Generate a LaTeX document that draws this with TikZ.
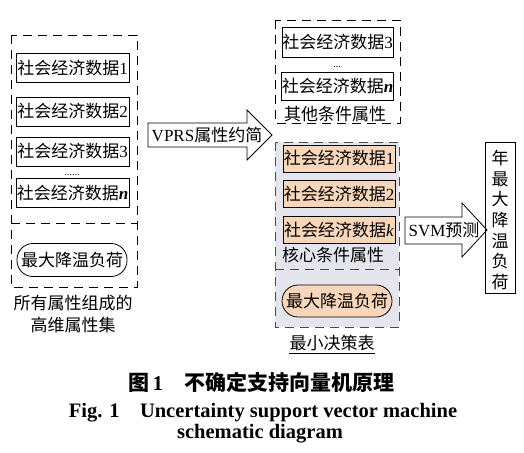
\documentclass[tikz,border=0pt]{standalone}
\usepackage{fontspec}
\setmainfont{Liberation Serif}
\newfontfamily\cjk{Noto Sans CJK SC}
\definecolor{peach}{HTML}{F8D6BA}
\definecolor{lav}{HTML}{E5E5EE}
\definecolor{dashgray}{HTML}{4A4A4A}
\begin{document}
\begin{tikzpicture}[x=1pt,y=-1pt,
  font=\fontsize{17}{19}\selectfont,
  dbox/.style={dash pattern=on 9pt off 6pt, line width=0.8pt},
  databox/.style={draw, line width=0.8pt, minimum width=113pt, minimum height=29pt, inner sep=0pt},
  corebox/.style={databox, fill=peach, minimum width=112pt, minimum height=27pt},
  stadium/.style={draw, line width=0.8pt, rounded corners=16pt, minimum width=110pt, minimum height=33pt, inner sep=0pt},
  lbl/.style={inner sep=0pt},
  blockarrow/.style={draw, line width=0.8pt, fill=white, line join=miter}]
\useasboundingbox (0,0) rectangle (524,452);
\fill[white] (0,0) rectangle (524,452);

% ---------- left column ----------
\draw[dbox] (11,35) rectangle (137,287);
\draw[dbox] (11,223) -- (137,223);
\node[databox] (l1) at (72.5,68) {{\cjk 社会经济数据}1};
\node[databox] (l2) at (72.5,111.5) {{\cjk 社会经济数据}2};
\node[databox] (l3) at (72.5,151.5) {{\cjk 社会经济数据}3};
\node[lbl, font=\fontsize{10}{10}\selectfont] (ldots) at (72,175) {......};
\node[databox] (ln) at (72.5,193) {{\cjk 社会经济数据}\textbf{\textit{n}}};
\node[stadium] (lload) at (72,260) {\cjk 最大降温负荷};
\node[lbl, align=center, font=\fontsize{17}{22}\selectfont\cjk] (lcap) at (73,314) {所有属性组成的\\高维属性集};

% ---------- middle top ----------
\draw[dbox] (275,20) rectangle (400,123);
\node[databox, minimum width=111pt, minimum height=30pt] (o3) at (337.5,42.5) {{\cjk 社会经济数据}3};
\node[lbl, font=\fontsize{10}{10}\selectfont] (odots) at (337,67) {...};
\node[databox, minimum width=111pt, minimum height=28pt] (on) at (337.5,86) {{\cjk 社会经济数据}\textbf{\textit{n}}};
\node[lbl, font=\fontsize{17}{19}\selectfont\cjk] (ocap) at (335,114) {其他条件属性};

% ---------- middle bottom ----------
\fill[lav] (275,142) rectangle (399,327);
\draw[dbox, dashgray] (275,142) rectangle (399,327);
\draw[dbox, dashgray] (275,269) -- (399,269);
\node[corebox] (c1) at (339,158.5) {{\cjk 社会经济数据}1};
\node[corebox] (c2) at (339,194) {{\cjk 社会经济数据}2};
\node[corebox] (ck) at (339,230) {{\cjk 社会经济数据}\textit{k}};
\node[lbl, font=\fontsize{17}{19}\selectfont\cjk] (ccap) at (333,255) {核心条件属性};
\node[stadium, fill=peach, minimum height=32pt] (cload) at (337,301) {\cjk 最大降温负荷};
\node[lbl, font=\fontsize{17}{19}\selectfont\cjk] (mcap) at (332,343) {最小决策表};
\draw[line width=0.7pt] ([yshift=-2pt]mcap.south west) -- ([yshift=-2pt]mcap.south east);

% ---------- block arrows ----------
\draw[blockarrow] (148,123) -- (247,123) -- (247,110) -- (272,135) -- (247,160) -- (247,147) -- (148,147) -- cycle;
\node[lbl] (vprs) at (207,135) {VPRS{\cjk 属性约简}};
\draw[blockarrow] (405,217) -- (462,217) -- (462,203) -- (487,230) -- (462,257) -- (462,244) -- (405,244) -- cycle;
\node[lbl] (svm) at (444,230) {SVM{\cjk 预测}};

% ---------- output ----------
\node[draw, line width=0.8pt, minimum width=30pt, minimum height=151pt, inner sep=0pt] (out) at (500,217.5) {};
\node[lbl, align=center, font=\fontsize{17}{20.7}\selectfont\cjk] (outtxt) at (500,220) {年\\最\\大\\降\\温\\负\\荷};

% ---------- caption ----------
\node[lbl, font=\fontsize{21}{24}\selectfont\bfseries] (cap1) at (261,382) {{\cjk 图}\,1\hspace{1em}{\cjk 不确定支持向量机原理}};
\node[lbl, font=\fontsize{20.5}{24}\selectfont\bfseries] (cap2) at (263,413) {Fig. 1\hspace{1em}Uncertainty support vector machine};
\node[lbl, font=\fontsize{20.5}{24}\selectfont\bfseries] (cap3) at (260,434) {schematic diagram};
\end{tikzpicture}
\end{document}
